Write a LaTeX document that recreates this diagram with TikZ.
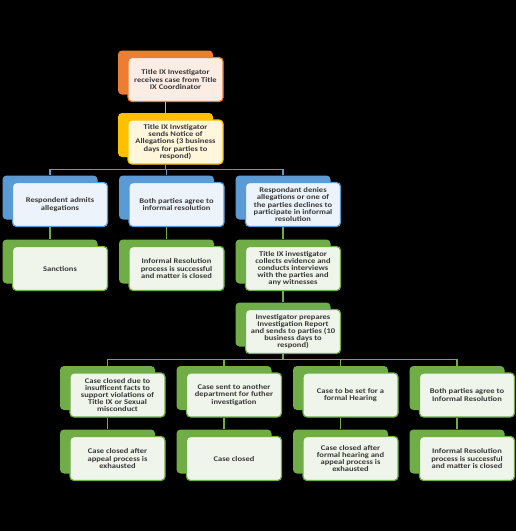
\documentclass[tikz,border=0pt]{standalone}
\usepackage{fontspec}
\setmainfont{Carlito}
\newfontfamily\boxfont{Carlito}[FakeStretch=1.18]
\definecolor{ora}{HTML}{ED7D31}
\definecolor{oraL}{HTML}{FCEDE4}
\definecolor{yel}{HTML}{FFC000}
\definecolor{yelL}{HTML}{FFF6DC}
\definecolor{blu}{HTML}{5B9BD5}
\definecolor{bluL}{HTML}{EDF3FA}
\definecolor{grn}{HTML}{70AD47}
\definecolor{grnL}{HTML}{EFF5EB}
\definecolor{txt}{HTML}{383838}
\tikzset{
  backbox/.style={rounded corners=4pt, minimum width=95pt, minimum height=44pt, inner sep=0pt, draw=none},
  frontbox/.style={rounded corners=4pt, minimum width=95pt, minimum height=44pt, inner sep=0pt, line width=1.2pt, align=center, text=txt, font=\boxfont\bfseries\fontsize{7.2}{7.2}\selectfont},
  conn/.style={line width=1.5pt}
}
\newcommand{\tbx}[6]{%
  \node[backbox, fill=#4] (#1b) at (#2-10,#3-7) {};
  \node[frontbox, draw=#4, fill=#5] (#1) at (#2,#3) {#6};
}
\begin{document}
\begin{tikzpicture}[x=1pt,y=-1pt]
\fill[black] (0,0) rectangle (516,531);
\useasboundingbox (0,0) rectangle (516,531);
% top
\tbx{o}{175.5}{79.5}{ora}{oraL}{Title IX Investigator\\receives case from Title\\IX Coordinator}
\tbx{y}{175.5}{142}{yel}{yelL}{Title IX Invstigator\\sends Notice of\\Allegations (3 business\\days for parties to\\respond)}
% row 1
\tbx{a}{60}{204.5}{blu}{bluL}{Respondent admits\\allegations}
\tbx{b}{176.5}{204.5}{blu}{bluL}{Both parties agree to\\informal resolution}
\tbx{c}{293}{204.5}{blu}{bluL}{Respondant denies\\allegations or one of\\the parties declines to\\participate in informal\\resolution}
% row 2
\tbx{a2}{60}{268.5}{grn}{grnL}{Sanctions}
\tbx{b2}{176.5}{268.5}{grn}{grnL}{Informal Resolution\\process is successful\\and matter is closed}
\tbx{c2}{293}{268.5}{grn}{grnL}{Title IX investigator\\collects evidence and\\conducts interviews\\with the parties and\\any witnesses}
% investigator
\tbx{r}{293}{331.5}{grn}{grnL}{Investigator prepares\\Investigation Report\\and sends to parties (10\\business days to\\respond)}
% row 3
\tbx{p}{117.5}{395}{grn}{grnL}{Case closed due to\\insufficent facts to\\support violations of\\Title IX or Sexual\\misconduct}
\tbx{q}{234}{395}{grn}{grnL}{Case sent to another\\department for futher\\investigation}
\tbx{s}{350.5}{395}{grn}{grnL}{Case to be set for a\\formal Hearing}
\tbx{t}{467}{395}{grn}{grnL}{Both parties agree to\\Informal Resolution}
% row 4
\tbx{p2}{117.5}{458.5}{grn}{grnL}{Case closed after\\appeal process is\\exhausted}
\tbx{q2}{234}{458.5}{grn}{grnL}{Case closed}
\tbx{s2}{350.5}{458.5}{grn}{grnL}{Case closed after\\formal hearing and\\appeal process is\\exhausted}
\tbx{t2}{467}{458.5}{grn}{grnL}{Informal Resolution\\process is successful\\and matter is closed}
% connectors
\coordinate (bus1) at (0,169.5);
\coordinate (bus2) at (0,359.5);
\draw[conn, yel] (o.south -| ob) -- (yb.north);
\foreach \k in {a,b,c}{
  \draw[conn, blu] (y.south -| yb) -- (yb |- bus1) -| (\k b.north);
}
\draw[conn, grn] (a.south -| ab) -- (a2b.north);
\draw[conn, grn] (b.south -| bb) -- (b2b.north);
\draw[conn, grn] (c.south -| cb) -- (c2b.north);
\draw[conn, grn] (c2.south -| c2b) -- (rb.north);
\foreach \k in {p,q,s,t}{
  \draw[conn, grn] (r.south -| rb) -- (rb |- bus2) -| (\k b.north);
}
\draw[conn, grn] (p.south -| pb) -- (p2b.north);
\draw[conn, grn] (q.south -| qb) -- (q2b.north);
\draw[conn, grn] (s.south -| sb) -- (s2b.north);
\draw[conn, grn] (t.south -| tb) -- (t2b.north);
\end{tikzpicture}
\end{document}
